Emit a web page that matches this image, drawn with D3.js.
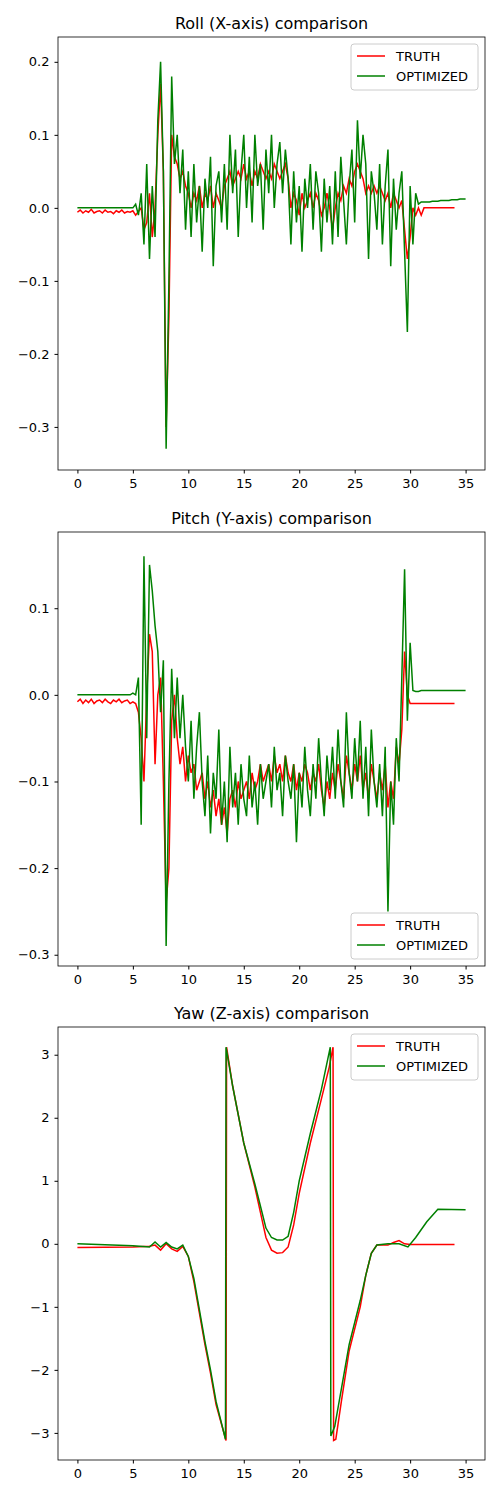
<!DOCTYPE html><html><head><meta charset="utf-8">
<script src="https://cdn.jsdelivr.net/npm/d3@7"></script>
<style>body{margin:0;background:#fff}svg{font-family:"DejaVu Sans",sans-serif}</style></head><body>
<script>
const rollOpt=[0,0,0,0,0,0,0,0,0,0,0,0,0,0,0,0,0,0,0,0,0,
0.005,-0.01,0.02,-0.05,0.06,-0.07,0.03,-0.04,
0.12,0.2,0.05,-0.33,-0.1,0.18,0.06,0.1,
0.02,0.08,-0.03,0.05,-0.04,0.06,-0.02,0.03,
-0.06,0.04,0.0,0.07,-0.08,0.03,0.05,-0.02,
0.06,-0.03,0.1,0.02,0.08,-0.04,0.05,0.1,
0.0,0.07,-0.02,0.1,0.03,0.06,-0.03,0.08,
0.02,0.1,0.0,0.06,0.09,0.02,0.08,0.04,
-0.05,0.05,-0.02,0.03,-0.06,0.04,0.0,0.06,
-0.03,0.05,0.02,-0.06,0.04,-0.02,0.03,-0.05,
0.05,-0.04,0.07,0.01,-0.05,0.03,0.08,-0.02,
0.12,0.04,0.1,0.06,-0.07,0.05,0.02,-0.03,
0.06,-0.05,0.03,0.08,-0.08,0.04,-0.03,0.02,
0.05,-0.06,-0.17,0.03,-0.05,0.02,0.005,0.008,
0.008,0.008,0.008,0.009,0.009,0.009,0.01,0.01,0.01,0.01,0.011,0.011,0.011,0.012,0.012,0.012];
const rollTruth=[-0.006,-0.003,-0.007,-0.004,-0.006,-0.002,-0.007,-0.005,-0.004,-0.007,-0.003,-0.006,-0.005,-0.008,-0.004,-0.006,-0.003,-0.007,-0.005,-0.006,-0.004,
-0.01,-0.005,0.0,-0.03,-0.02,0.02,-0.04,0.0,
0.1,0.17,0.05,-0.3,-0.15,0.1,0.07,0.06,
0.04,0.05,0.03,0.02,0.0,0.02,0.01,0.03,
0.0,0.02,0.01,0.03,0.0,0.02,0.01,0.0,
0.03,0.04,0.05,0.03,0.04,0.05,0.04,0.06,
0.04,0.05,0.03,0.05,0.04,0.06,0.05,0.04,
0.05,0.04,0.06,0.05,0.04,0.05,0.06,0.04,
0.0,0.02,0.01,-0.01,0.02,0.0,0.01,0.02,
0.0,0.02,0.01,-0.01,0.0,0.02,0.0,-0.03,
0.0,0.02,0.01,0.03,0.02,0.04,0.03,0.05,
0.06,0.05,0.04,0.02,0.03,0.02,0.03,0.02,
0.03,0.02,0.01,0.02,0.0,0.02,0.01,0.0,
0.01,-0.03,-0.07,-0.04,0.0,-0.01,0.0,-0.01,
0,0,0,0,0,0,0,0,0,0,0,0];
const pitchOpt=[0,0,0,0,0,0,0,0,0,0,0,0,0,0,0,0,0,0,0,0,0.002,
0.0,0.02,-0.15,0.16,-0.05,0.15,0.12,0.08,
0.05,-0.02,0.04,-0.29,-0.1,0.03,-0.05,0.02,
-0.05,0.0,-0.06,-0.1,-0.03,-0.12,-0.06,-0.02,
-0.1,-0.14,-0.07,-0.16,-0.09,-0.12,-0.04,-0.15,
-0.1,-0.17,-0.06,-0.13,-0.09,-0.15,-0.08,-0.12,
-0.14,-0.07,-0.13,-0.1,-0.15,-0.08,-0.12,-0.1,
-0.08,-0.13,-0.06,-0.11,-0.09,-0.14,-0.07,-0.1,
-0.12,-0.08,-0.17,-0.09,-0.13,-0.06,-0.11,-0.14,
-0.08,-0.12,-0.05,-0.1,-0.14,-0.07,-0.11,-0.06,
-0.12,-0.04,-0.1,-0.13,-0.02,-0.09,-0.12,-0.05,
-0.1,-0.03,-0.12,-0.06,-0.14,-0.04,-0.1,-0.13,
-0.08,-0.14,-0.06,-0.25,-0.1,-0.15,-0.05,-0.1,
0.02,0.145,-0.03,0.06,0.005,0.004,0.004,0.005,
0.005,0.005,0.005,0.005,0.005,0.005,0.005,0.005,0.005,0.005,0.005,0.005,0.005,0.005,0.005,0.005];
const pitchTruth=[-0.008,-0.005,-0.01,-0.006,-0.009,-0.005,-0.01,-0.007,-0.006,-0.009,-0.005,-0.008,-0.01,-0.006,-0.008,-0.005,-0.009,-0.007,-0.006,-0.01,-0.008,
-0.01,-0.02,-0.05,-0.1,0.0,0.07,0.05,-0.08,
0.0,0.02,-0.1,-0.24,-0.2,-0.03,0.0,-0.05,
-0.08,-0.06,-0.1,-0.07,-0.09,-0.08,-0.11,-0.1,
-0.09,-0.12,-0.1,-0.13,-0.11,-0.14,-0.12,-0.15,
-0.13,-0.16,-0.12,-0.11,-0.13,-0.1,-0.12,-0.11,
-0.1,-0.12,-0.09,-0.11,-0.1,-0.08,-0.1,-0.09,
-0.08,-0.1,-0.07,-0.09,-0.08,-0.1,-0.07,-0.09,
-0.1,-0.08,-0.11,-0.09,-0.1,-0.08,-0.09,-0.11,
-0.09,-0.1,-0.08,-0.11,-0.13,-0.1,-0.12,-0.09,
-0.11,-0.08,-0.1,-0.12,-0.07,-0.09,-0.11,-0.08,
-0.1,-0.07,-0.11,-0.09,-0.12,-0.08,-0.1,-0.12,
-0.09,-0.11,-0.08,-0.13,-0.1,-0.12,-0.06,-0.08,
-0.04,0.05,0.0,-0.01,-0.01,-0.01,-0.01,-0.01,
-0.01,-0.01,-0.01,-0.01,-0.01,-0.01,-0.01,-0.01,-0.01,-0.01,-0.01,-0.01];
const yawTruthT=[0,5,6.5,7,7.5,8,8.5,9,9.5,10,10.5,11,11.5,12,12.5,13.4,13.45,14,15,16,16.5,17,17.5,18,18.5,19,19.5,20,21,22,22.7,23.05,23.1,23.3,23.8,24.5,25.5,26,26.5,27,28,28.5,29,29.5,30,34];
const yawTruth=[-0.06,-0.05,-0.04,-0.02,-0.1,0.0,-0.08,-0.12,-0.04,-0.2,-0.6,-1.1,-1.6,-2.05,-2.55,-3.12,3.12,2.5,1.6,0.9,0.5,0.1,-0.1,-0.15,-0.14,-0.05,0.3,0.8,1.6,2.3,2.8,3.12,-3.12,-3.1,-2.5,-1.7,-1.0,-0.5,-0.15,-0.02,-0.02,0.02,0.05,0.0,-0.01,-0.01];
const yawOptT=[0,5,6.5,7,7.5,8,8.5,9,9.5,10,10.5,11,11.5,12,12.5,13.35,13.4,14,15,16,16.5,17,17.5,18,18.5,19,19.5,20,21,22,22.8,22.85,23.2,23.8,24.5,25.5,26,26.5,27,28,29,29.8,30.5,31.5,32.5,35];
const yawOpt=[0.0,-0.03,-0.05,0.03,-0.05,0.02,-0.05,-0.08,-0.02,-0.2,-0.55,-1.05,-1.55,-2.0,-2.5,-3.1,3.12,2.5,1.6,0.95,0.6,0.25,0.1,0.06,0.06,0.12,0.5,1.0,1.75,2.45,3.12,-3.05,-2.9,-2.3,-1.6,-0.9,-0.5,-0.15,-0.02,0.0,0.0,-0.05,0.1,0.35,0.55,0.54];
const xTicks=[0,5,10,15,20,25,30,35];
const step=0.25;
const panels=[
 {title:"Roll (X-axis) comparison",top:37,bottom:470,dom:[-0.359,0.234],ticks:[0.2,0.1,0.0,-0.1,-0.2,-0.3],fmt:d3.format(".1f"),
  truth:rollTruth.map((v,i)=>[i*step,v]),opt:rollOpt.map((v,i)=>[i*step,v]),leg:"top"},
 {title:"Pitch (Y-axis) comparison",top:532,bottom:966,dom:[-0.313,0.188],ticks:[0.1,0.0,-0.1,-0.2,-0.3],fmt:d3.format(".1f"),
  truth:pitchTruth.map((v,i)=>[i*step,v]),opt:pitchOpt.map((v,i)=>[i*step,v]),leg:"bottom"},
 {title:"Yaw (Z-axis) comparison",top:1027,bottom:1460,dom:[-3.43,3.44],ticks:[3,2,1,0,-1,-2,-3],fmt:d3.format("d"),
  truth:yawTruth.map((v,i)=>[yawTruthT[i],v]),opt:yawOpt.map((v,i)=>[yawOptT[i],v]),leg:"top"}
];
const L=58,R=485;
const svg=d3.select("body").append("svg").attr("width",500).attr("height",1500);
const x=d3.scaleLinear().domain([-1.75,36.75]).range([L,R]);
const minus=s=>s.replace("-","\u2212");
panels.forEach(p=>{
 const y=d3.scaleLinear().domain(p.dom).range([p.bottom,p.top]);
 const g=svg.append("g");
 const line=d3.line().x(d=>x(d[0])).y(d=>y(d[1]));
 g.append("path").datum(p.truth).attr("d",line).attr("fill","none").attr("stroke","#ff0000").attr("stroke-width",1.5);
 g.append("path").datum(p.opt).attr("d",line).attr("fill","none").attr("stroke","#008000").attr("stroke-width",1.5);
 g.append("rect").attr("x",L).attr("y",p.top).attr("width",R-L).attr("height",p.bottom-p.top).attr("fill","none").attr("stroke","#000").attr("stroke-width",0.8);
 const xa=g.append("g").attr("transform",`translate(0,${p.bottom})`).call(d3.axisBottom(x).tickValues(xTicks).tickSize(3.5).tickPadding(5));
 const ya=g.append("g").attr("transform",`translate(${L},0)`).call(d3.axisLeft(y).tickValues(p.ticks).tickFormat(d=>minus(p.fmt(d))).tickSize(3.5).tickPadding(5));
 [xa,ya].forEach(a=>{a.select(".domain").remove();a.selectAll("text").attr("font-size",13).attr("fill","#000").attr("font-family","DejaVu Sans");});
 g.append("text").attr("x",(L+R)/2).attr("y",p.top-8).attr("text-anchor","middle").attr("font-size",16).text(p.title);
 const lw=127,lh=46,lx=R-7-lw,ly=p.leg==="top"?p.top+7:p.bottom-7-lh;
 const lg=g.append("g").attr("transform",`translate(${lx},${ly})`);
 lg.append("rect").attr("width",lw).attr("height",lh).attr("rx",3).attr("fill","#fff").attr("fill-opacity",0.8).attr("stroke","#ccc");
 [["TRUTH","#ff0000"],["OPTIMIZED","#008000"]].forEach((e,i)=>{
  const yy=12+i*20;
  lg.append("line").attr("x1",6).attr("x2",34).attr("y1",yy).attr("y2",yy).attr("stroke",e[1]).attr("stroke-width",1.5);
  lg.append("text").attr("x",45).attr("y",yy+5).attr("font-size",13).text(e[0]);
 });
});
</script></body></html>
